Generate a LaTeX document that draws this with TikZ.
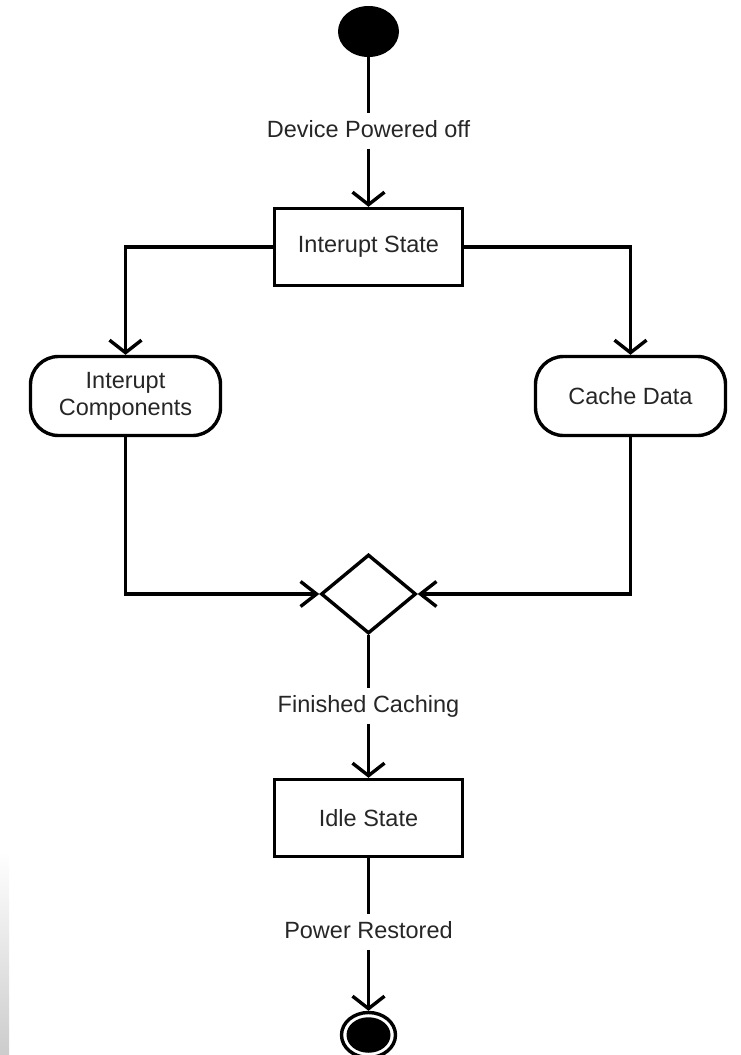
\documentclass[tikz,border=0pt]{standalone}
\usepackage{fontspec}
\setmainfont{Liberation Sans}
\usetikzlibrary{arrows.meta,shapes.geometric}
\begin{document}
\begin{tikzpicture}[x=1pt,y=-1pt,
  lw/.style={line width=3.4pt},
  every node/.style={font=\fontsize{23.5}{27}\selectfont, text=black!85},
  statebox/.style={draw, lw, rectangle, minimum width=188pt, minimum height=77pt, inner sep=0pt},
  actbox/.style={draw, lw, rectangle, rounded corners=28pt, minimum width=190pt, minimum height=79pt, align=center, inner sep=0pt},
  lbl/.style={inner xsep=2pt, inner ysep=6.5pt, text height=17pt, text depth=5pt},
  vtip/.style={-{Straight Barb[length=12.5pt,width=32pt]}},
  htip/.style={-{Straight Barb[length=16pt,width=25pt]}},
  conn/.style={lw, draw=black}
]
\useasboundingbox (0,0) rectangle (741,1055);
\shade[top color=white, bottom color=black!20] (0,852) rectangle (9,1055);

\node[ellipse, fill=black, minimum width=61pt, minimum height=51pt, inner sep=0pt] (start) at (368.5,31.5) {};
\node[lbl] (l1) at (368.5,131) {Device Powered off};
\node[statebox] (s1) at (368.5,247) {Interupt State};
\node[actbox] (ic) at (125.5,396) {Interupt\\Components};
\node[actbox] (cd) at (630.5,396) {Cache Data};
\node[diamond, draw, lw, minimum width=95pt, minimum height=79pt, inner sep=0pt] (dm) at (368.5,594) {};
\node[lbl] (l3) at (368.5,706) {Finished Caching};
\node[statebox] (idle) at (368.5,818) {Idle State};
\node[lbl] (l4) at (368.5,932) {Power Restored};
\node[ellipse, draw, lw, minimum width=54pt, minimum height=45pt, inner sep=0pt] (end) at (368.5,1035) {};
\node[ellipse, fill=black, minimum width=44pt, minimum height=35.5pt, inner sep=0pt] (endfill) at (end) {};

\draw[conn] (start) -- (l1);
\draw[conn, vtip] (l1) -- (s1);
\draw[conn, vtip] (s1.west) -| (ic.north);
\draw[conn, vtip] (s1.east) -| (cd.north);
\draw[conn, htip] (ic.south) |- (dm.west);
\draw[conn, htip] (cd.south) |- (dm.east);
\draw[conn] (dm) -- (l3);
\draw[conn, vtip] (l3) -- (idle);
\draw[conn] (idle) -- (l4);
\draw[conn, vtip] (l4) -- (end);
\end{tikzpicture}
\end{document}
